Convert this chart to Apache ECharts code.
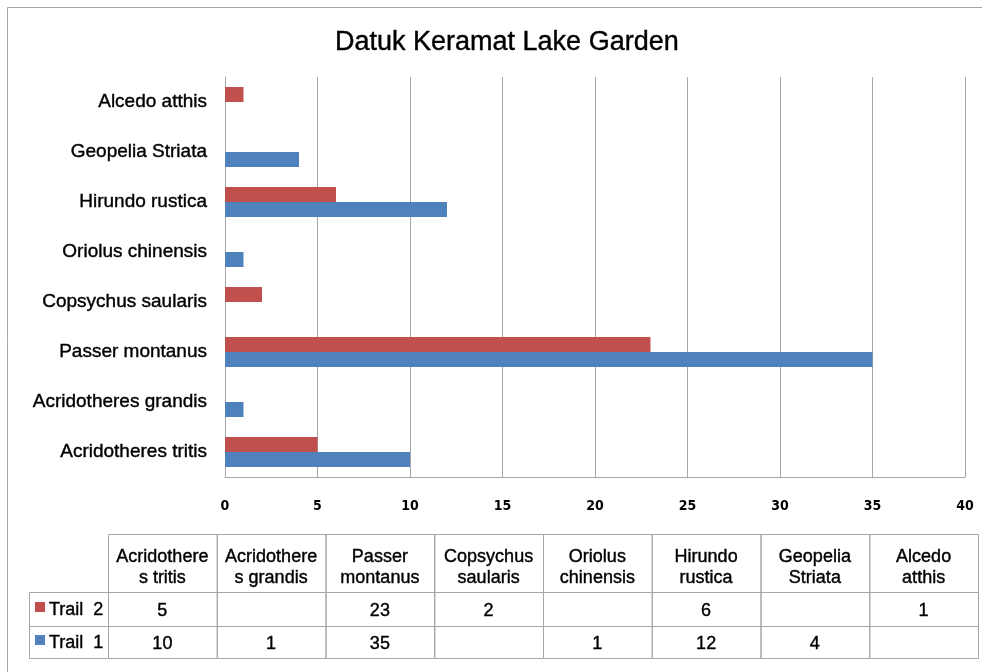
<!DOCTYPE html>
<html>
<head>
<meta charset="utf-8">
<script src="https://cdn.jsdelivr.net/npm/echarts@6/dist/echarts.min.js"></script>
<style>
  html, body { margin: 0; padding: 0; background: #ffffff; }
  #chart { width: 982px; height: 672px; }
</style>
</head>
<body>
<div id="chart"></div>
<script>
// species, bottom to top on the chart, left to right in the table
const categories = [
  "Acridotheres tritis",
  "Acridotheres grandis",
  "Passer montanus",
  "Copsychus saularis",
  "Oriolus chinensis",
  "Hirundo rustica",
  "Geopelia Striata",
  "Alcedo atthis"
];
const headerLabels = [
  "Acridothere\ns tritis",
  "Acridothere\ns grandis",
  "Passer\nmontanus",
  "Copsychus\nsaularis",
  "Oriolus\nchinensis",
  "Hirundo\nrustica",
  "Geopelia\nStriata",
  "Alcedo\natthis"
];
const trail1 = [10, 1, 35, null, 1, 12, 4, null];
const trail2 = [5, null, 23, 2, null, 6, null, 1];
const xTicks = [0, 5, 10, 15, 20, 25, 30, 35, 40];

const RED = "#C0504D";
const BLUE = "#4F81BD";
const LINE = "#A6A6A6";
const FONT = "Liberation Sans";
// the scanned text is a little heavier than plain regular
const heavy = { textBorderColor: "#000", textBorderWidth: 0.4 };
// same thing for graphic text elements (they use stroke / lineWidth)
const heavyG = { stroke: "#000", lineWidth: 0.4 };

// data table under the chart
const tableLeft = 108, colW = 108.75;
const legendLeft = 29;
const rowY = [534, 592, 626, 658];
const rows = [
  { name: "Trail 2", color: RED, values: trail2 },
  { name: "Trail 1", color: BLUE, values: trail1 }
];

let graphics = [];
// outer frame
graphics.push({
  type: "rect", shape: { x: 7.5, y: 7.5, width: 990, height: 700 },
  style: { fill: null, stroke: LINE, lineWidth: 1 }, silent: true
});
// header cells
headerLabels.forEach((lab, i) => {
  let x = tableLeft + i * colW;
  graphics.push({
    type: "rect", shape: { x: x + 0.5, y: rowY[0] + 0.5, width: colW, height: rowY[1] - rowY[0] },
    style: { fill: null, stroke: LINE, lineWidth: 1 }
  });
  graphics.push({
    type: "text", x: x + colW / 2, y: (rowY[0] + rowY[1]) / 2 + 5,
    style: Object.assign({ text: lab, font: "18px " + FONT, fill: "#000", align: "center", verticalAlign: "middle", lineHeight: 21 }, heavyG)
  });
});
// data rows
rows.forEach((r, ri) => {
  let y0 = rowY[ri + 1], y1 = rowY[ri + 2];
  graphics.push({
    type: "rect", shape: { x: legendLeft + 0.5, y: y0 + 0.5, width: tableLeft - legendLeft, height: y1 - y0 },
    style: { fill: null, stroke: LINE, lineWidth: 1 }
  });
  graphics.push({
    type: "rect", shape: { x: 35, y: (y0 + y1) / 2 - 7, width: 10, height: 10 },
    style: { fill: r.color }
  });
  graphics.push({
    type: "text", x: 49, y: (y0 + y1) / 2 + 1,
    style: Object.assign({ text: r.name.replace(" ", "  "), font: "18px " + FONT, fill: "#000", verticalAlign: "middle" }, heavyG)
  });
  r.values.forEach((v, i) => {
    let x = tableLeft + i * colW;
    graphics.push({
      type: "rect", shape: { x: x + 0.5, y: y0 + 0.5, width: colW, height: y1 - y0 },
      style: { fill: null, stroke: LINE, lineWidth: 1 }
    });
    if (v != null) {
      graphics.push({
        type: "text", x: x + colW / 2, y: (y0 + y1) / 2 + 2,
        style: Object.assign({ text: String(v), font: "18px " + FONT, fill: "#000", align: "center", verticalAlign: "middle" }, heavyG)
      });
    }
  });
});

let mychart = echarts.init(document.getElementById("chart"));
const option = {
  animation: false,
  title: {
    text: "Datuk Keramat Lake Garden",
    left: 330,
    top: 24,
    textStyle: Object.assign({ fontFamily: FONT, fontSize: 27, fontWeight: "normal", color: "#000" }, heavy)
  },
  grid: { left: 225, right: 17, top: 77, bottom: 195, containLabel: false },
  xAxis: {
    type: "value",
    min: 0,
    max: 40,
    interval: 5,
    axisLine: { show: true, lineStyle: { color: LINE } },
    axisTick: { show: false },
    axisLabel: {
      margin: 22,
      fontFamily: "DejaVu Sans Condensed",
      fontWeight: "bold",
      fontSize: 14,
      color: "#000",
      formatter: v => (xTicks.indexOf(v) >= 0 ? String(v) : "")
    },
    splitLine: { show: true, lineStyle: { color: LINE } }
  },
  yAxis: {
    type: "category",
    data: categories,
    axisLine: { show: true, lineStyle: { color: LINE } },
    axisTick: { show: false },
    axisLabel: Object.assign({ margin: 18, fontFamily: FONT, fontSize: 19, color: "#000" }, heavy),
    splitLine: { show: false }
  },
  series: [
    {
      name: "Trail 2",
      type: "bar",
      data: trail2,
      itemStyle: { color: RED },
      barGap: "0%",
      barCategoryGap: "40%"
    },
    {
      name: "Trail 1",
      type: "bar",
      data: trail1,
      itemStyle: { color: BLUE },
      barGap: "0%",
      barCategoryGap: "40%"
    }
  ],
  graphic: graphics
};
mychart.setOption(option);
</script>
</body>
</html>
